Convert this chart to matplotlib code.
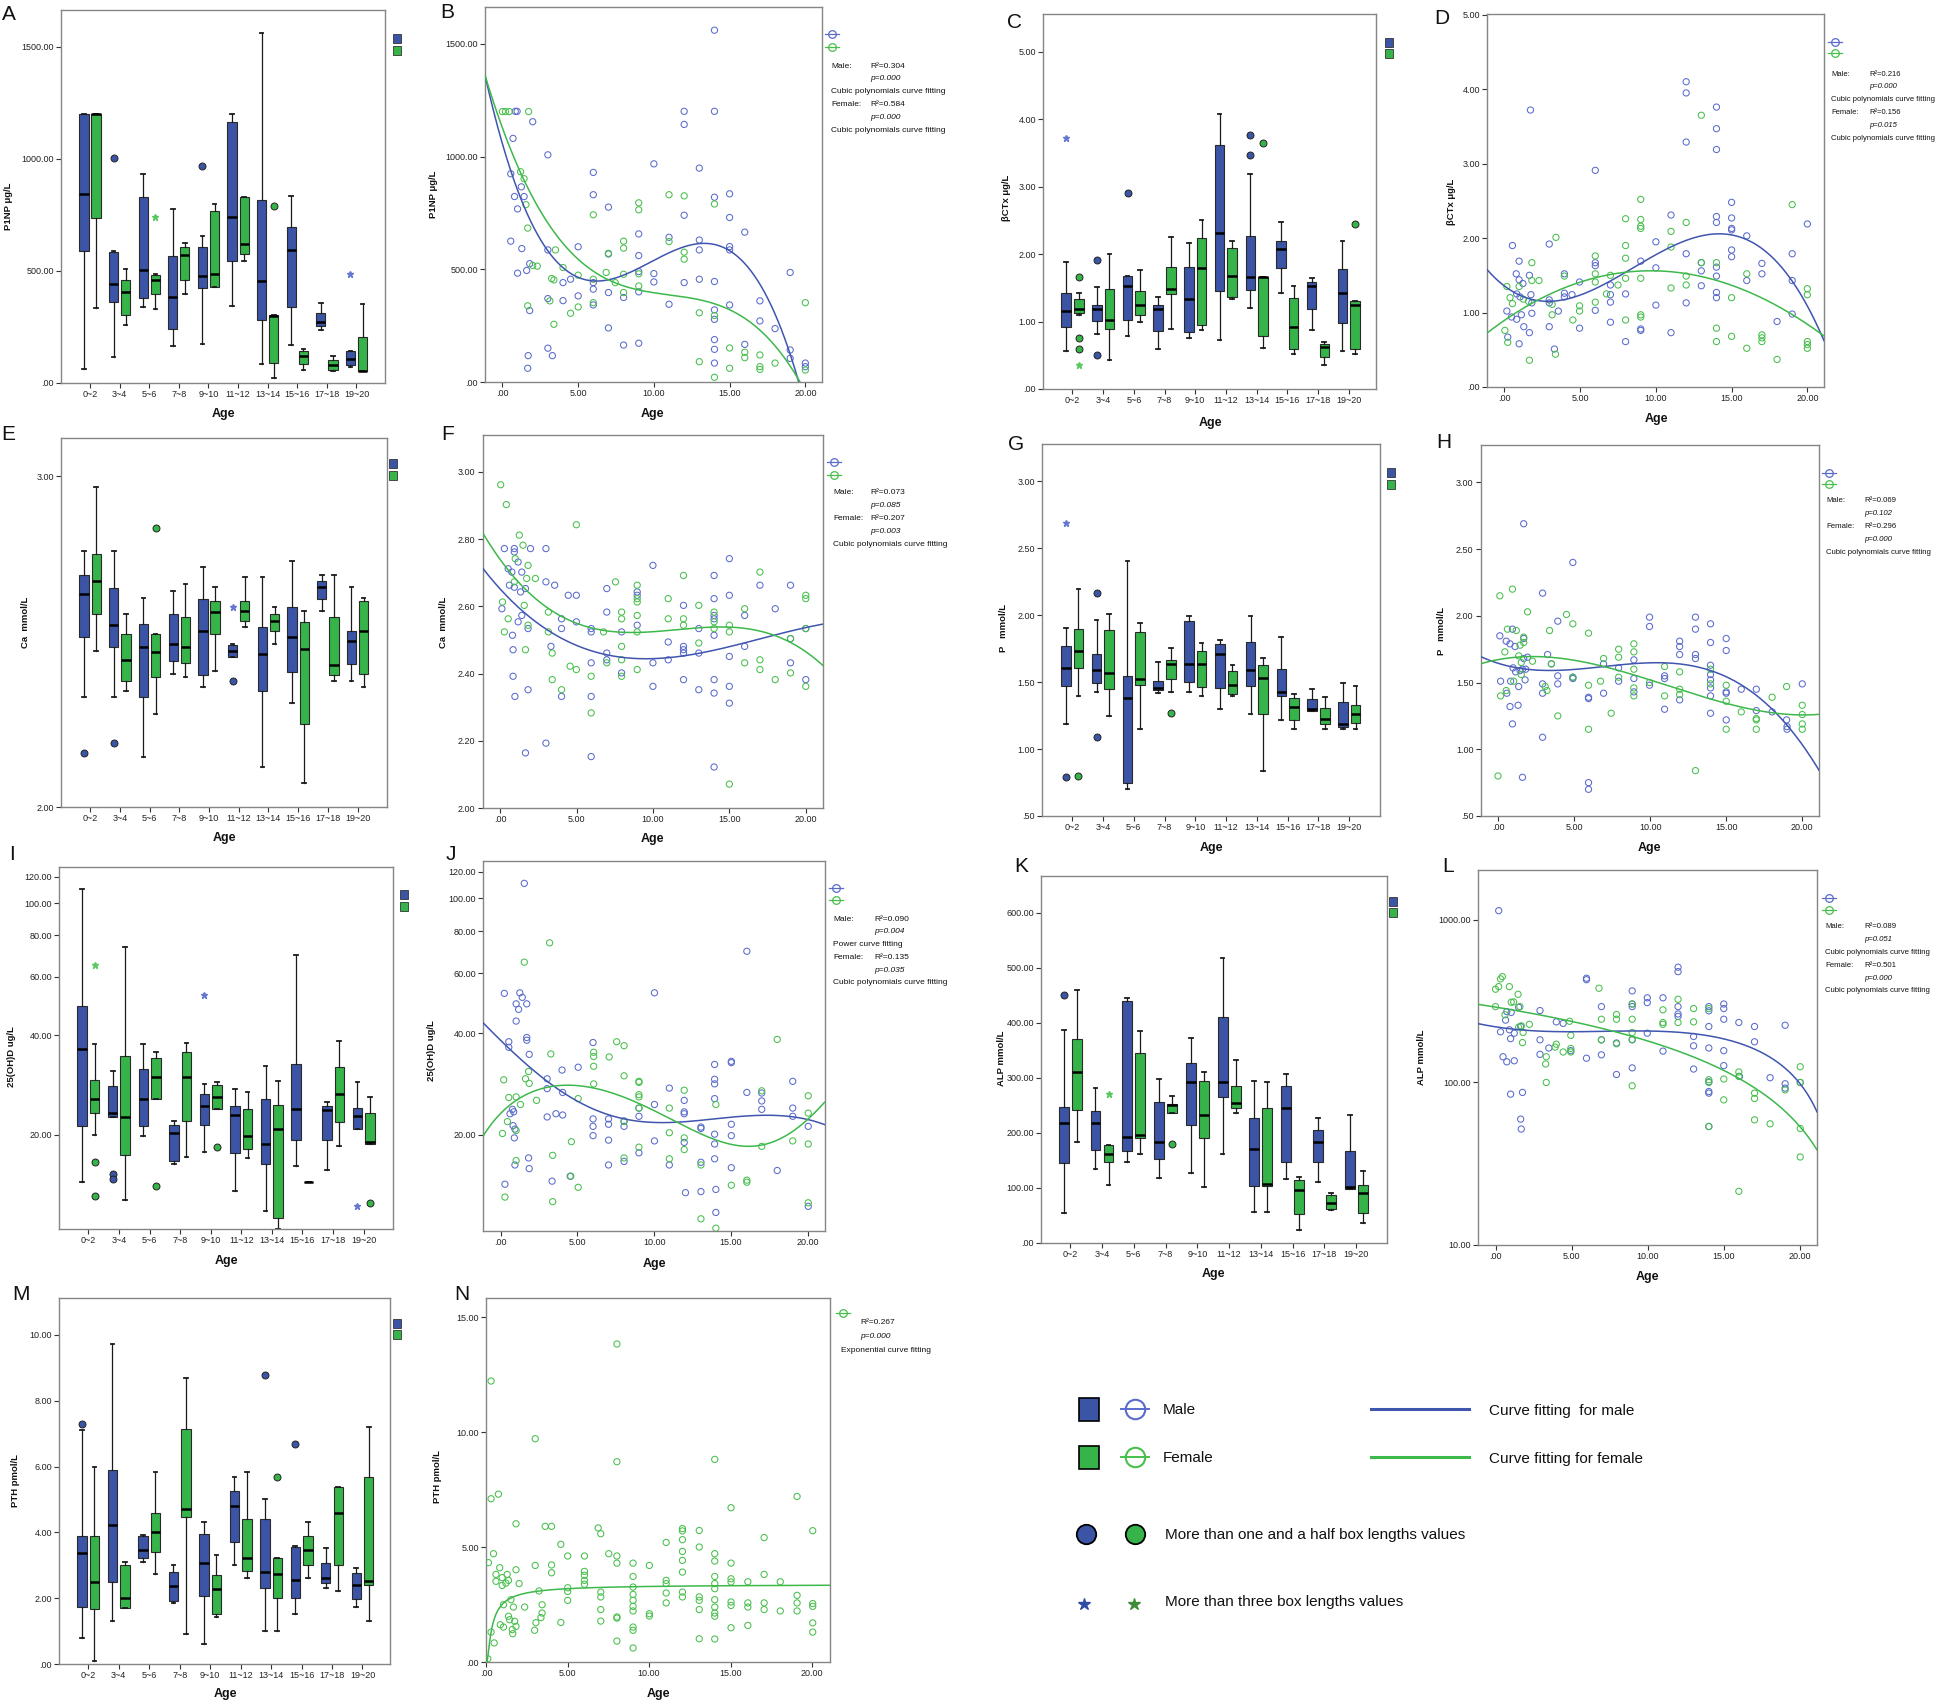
import numpy as np
import matplotlib
matplotlib.use("Agg")
import matplotlib.pyplot as plt
from matplotlib.lines import Line2D
from matplotlib.patches import Rectangle
from matplotlib.ticker import FixedLocator, FuncFormatter, NullLocator

NARROW = ["Liberation Sans Narrow", "Liberation Sans", "DejaVu Sans"]
REG = ["Liberation Sans", "DejaVu Sans"]
plt.rcParams["font.family"] = NARROW

# ---------------- data ----------------
age_groups = ["0~2", "3~4", "5~6", "7~8", "9~10", "11~12", "13~14", "15~16", "17~18", "19~20"]

# box stats per age group: [whisker low, q1, median, q3, whisker high]
p1np_male_box = [[61, 591, 844, 1200, 1200], [118, 362, 442, 586, 590], [341, 379, 506, 830, 933],
                 [167, 243, 385, 568, 775], [173, 424, 479, 607, 656], [344, 543, 741, 1166, 1201],
                 [86, 283, 455, 817, 1562], [168, 341, 595, 695, 835], [237, 254, 271, 314, 359],
                 [70, 80, 107, 141, 141]]
p1np_female_box = [[335, 735, 1200, 1200, 1200], [257, 305, 406, 458, 507], [332, 397, 460, 482, 485],
                   [397, 460, 573, 607, 626], [427, 427, 487, 768, 799], [545, 577, 622, 829, 829],
                   [21, 91, 299, 305, 305], [60, 85, 122, 141, 152], [54, 58, 79, 101, 121],
                   [52, 52, 55, 204, 351]]
# (sex, group index, value, kind)  kind "o" = 1.5 box lengths, "*" = 3 box lengths
p1np_outliers = [("M", 1, 1005, "o"), ("M", 4, 969, "o"), ("F", 2, 741, "*"),
                 ("F", 6, 790, "o"), ("M", 9, 485, "*")]

bctx_male_box = [[0.57, 0.925, 1.15, 1.42, 1.89], [0.81, 1.01, 1.19, 1.25, 1.51], [0.79, 1.03, 1.52, 1.68, 1.68],
                 [0.60, 0.86, 1.18, 1.25, 1.365], [0.75, 0.846, 1.34, 1.81, 2.16], [0.73, 1.45, 2.31, 3.62, 4.08],
                 [1.20, 1.47, 1.66, 2.27, 3.19], [1.42, 1.79, 2.07, 2.20, 2.47], [0.87, 1.19, 1.52, 1.58, 1.65],
                 [0.57, 0.98, 1.43, 1.78, 2.19]]
bctx_female_box = [[1.09, 1.13, 1.19, 1.34, 1.42], [0.435, 0.895, 1.03, 1.48, 2.0], [1.0, 1.10, 1.25, 1.45, 1.76],
                   [0.885, 1.41, 1.49, 1.81, 2.25], [0.875, 0.955, 1.80, 2.24, 2.51], [1.33, 1.37, 1.68, 2.09, 2.20],
                   [0.61, 0.78, 1.66, 1.66, 1.66], [0.52, 0.59, 0.925, 1.35, 1.52], [0.356, 0.475, 0.63, 0.67, 0.69],
                   [0.52, 0.59, 1.24, 1.31, 1.31]]
bctx_outliers = [("M", 0, 3.72, "*"), ("F", 0, 1.66, "o"), ("F", 0, 0.75, "o"), ("F", 0, 0.59, "o"),
                 ("F", 0, 0.35, "*"), ("M", 1, 1.92, "o"), ("M", 1, 0.50, "o"), ("M", 2, 2.90, "o"),
                 ("M", 6, 3.76, "o"), ("M", 6, 3.47, "o"), ("F", 6, 3.64, "o"), ("F", 9, 2.44, "o")]

ca_male_box = [[2.333, 2.514, 2.643, 2.70, 2.773], [2.333, 2.482, 2.549, 2.663, 2.773], [2.152, 2.333, 2.483, 2.553, 2.633],
               [2.402, 2.44, 2.492, 2.583, 2.654], [2.362, 2.398, 2.533, 2.628, 2.724], [2.452, 2.452, 2.472, 2.489, 2.492],
               [2.122, 2.351, 2.462, 2.543, 2.694], [2.313, 2.407, 2.513, 2.603, 2.743], [2.593, 2.628, 2.664, 2.684, 2.70],
               [2.382, 2.432, 2.502, 2.533, 2.664]]
ca_female_box = [[2.472, 2.583, 2.684, 2.763, 2.966], [2.351, 2.382, 2.443, 2.523, 2.583], [2.282, 2.392, 2.467, 2.523, 2.523],
                 [2.392, 2.436, 2.483, 2.573, 2.674], [2.412, 2.523, 2.588, 2.623, 2.664], [2.543, 2.563, 2.593, 2.623, 2.694],
                 [2.492, 2.533, 2.563, 2.583, 2.603], [2.072, 2.252, 2.477, 2.558, 2.593], [2.382, 2.398, 2.429, 2.573, 2.70],
                 [2.362, 2.402, 2.533, 2.623, 2.633]]
ca_outliers = [("M", 0, 2.162, "o"), ("M", 1, 2.192, "o"), ("F", 2, 2.843, "o"),
               ("M", 5, 2.382, "o"), ("M", 5, 2.604, "*")]

p_male_box = [[1.189, 1.468, 1.603, 1.772, 1.902], [1.423, 1.493, 1.593, 1.707, 1.962], [0.70, 0.745, 1.383, 1.543, 2.404],
              [1.418, 1.438, 1.458, 1.51, 1.65], [1.43, 1.503, 1.638, 1.955, 1.992], [1.30, 1.458, 1.713, 1.785, 1.812],
              [1.264, 1.471, 1.593, 1.802, 1.992], [1.221, 1.40, 1.43, 1.595, 1.835], [1.286, 1.286, 1.298, 1.371, 1.45],
              [1.151, 1.163, 1.189, 1.351, 1.493]]
p_female_box = [[1.40, 1.603, 1.733, 1.895, 2.20], [1.251, 1.448, 1.568, 1.89, 2.012], [1.151, 1.48, 1.523, 1.872, 1.942],
                [1.43, 1.523, 1.633, 1.665, 1.752], [1.40, 1.463, 1.638, 1.73, 1.792], [1.40, 1.413, 1.48, 1.58, 1.625],
                [0.84, 1.264, 1.533, 1.625, 1.683], [1.151, 1.219, 1.313, 1.383, 1.411], [1.151, 1.186, 1.226, 1.31, 1.388],
                [1.151, 1.193, 1.264, 1.331, 1.473]]
p_outliers = [("M", 0, 2.693, "*"), ("M", 0, 0.79, "o"), ("F", 0, 0.80, "o"), ("M", 1, 2.17, "o"),
              ("M", 1, 1.089, "o"), ("F", 3, 1.271, "o")]

vitd_male_box = [[14.4, 21.2, 36.4, 49.1, 110.7], [22.6, 22.6, 23.3, 28.1, 31.1], [19.9, 21.2, 25.6, 31.6, 37.7],
                 [16.3, 16.7, 20.2, 21.4, 22.1], [17.7, 21.4, 24.5, 26.5, 28.5], [13.5, 17.6, 23.0, 24.4, 27.5],
                 [11.8, 16.3, 18.8, 25.6, 32.3], [16.1, 19.3, 23.9, 32.8, 70.0], [15.7, 19.3, 23.8, 24.4, 25.2],
                 [20.9, 20.9, 22.8, 24.1, 28.8]]
vitd_female_box = [[20.0, 23.3, 25.7, 29.2, 37.7], [12.7, 17.4, 22.6, 34.7, 73.8], [25.6, 25.6, 30.0, 34.2, 35.5],
                   [17.1, 22.1, 30.0, 35.5, 37.8], [23.9, 23.9, 26.0, 28.3, 28.8], [17.0, 18.1, 19.9, 23.9, 27.0],
                   [10.4, 11.2, 20.8, 24.6, 29.0], [14.4, 14.4, 14.4, 14.4, 14.4], [18.5, 21.8, 26.6, 32.0, 38.5],
                   [18.8, 18.8, 19.1, 23.3, 26.1]]
vitd_outliers = [("F", 0, 64.9, "*"), ("F", 0, 16.6, "o"), ("F", 0, 13.1, "o"), ("M", 1, 15.2, "o"),
                 ("M", 1, 14.7, "o"), ("F", 2, 14.0, "o"), ("M", 4, 52.8, "*"), ("F", 4, 18.4, "o"),
                 ("M", 9, 12.2, "*"), ("F", 9, 12.5, "o")]

alp_male_box = [[55, 146, 218, 247, 388], [135, 169, 219, 239, 281], [148, 168, 192, 439, 445],
                [118, 153, 184, 256, 298], [128, 215, 293, 327, 372], [161, 266, 293, 411, 518],
                [57, 104, 170, 228, 295], [116, 148, 245, 285, 308], [111, 148, 184, 205, 228],
                [98, 99, 102, 168, 232]]
alp_female_box = [[184, 242, 310, 370, 460], [105, 148, 161, 178, 178], [161, 190, 196, 345, 386],
                  [236, 236, 251, 252, 268], [101, 190, 232, 295, 310], [236, 245, 254, 285, 332],
                  [57, 104, 107, 245, 292], [24, 52, 96, 115, 120], [60, 61, 73, 87, 90],
                  [37, 55, 91, 105, 131]]
alp_outliers = [("M", 0, 451, "o"), ("F", 1, 270, "*"), ("F", 3, 180, "o")]

pth_male_box = [[0.80, 1.72, 3.36, 3.90, 7.10], [1.32, 2.50, 4.21, 5.90, 9.71], [3.11, 3.21, 3.47, 3.90, 3.92],
                [1.84, 1.91, 2.37, 2.81, 3.01], [0.60, 2.07, 3.06, 3.95, 4.30], [3.01, 3.71, 4.81, 5.25, 5.69],
                [1.01, 2.32, 2.81, 4.40, 5.0], [1.52, 2.02, 2.56, 3.55, 3.60], [2.32, 2.47, 2.61, 3.06, 3.51],
                [1.72, 1.97, 2.41, 2.76, 2.91]]
pth_female_box = [[0.10, 1.66, 2.50, 3.90, 6.0], [1.71, 1.71, 2.02, 3.01, 3.09], [2.72, 3.41, 4.01, 4.60, 5.82],
                  [0.90, 4.46, 4.71, 7.13, 8.69], [1.42, 1.52, 2.27, 2.71, 3.30], [2.61, 2.82, 3.21, 4.40, 5.82],
                  [1.01, 2.02, 2.72, 3.21, 3.21], [2.61, 3.01, 3.47, 3.90, 4.30], [2.22, 3.01, 4.60, 5.39, 5.39],
                  [1.32, 2.41, 2.51, 5.69, 7.20]]
pth_outliers = [("M", 0, 7.29, "o"), ("M", 6, 8.78, "o"), ("F", 6, 5.69, "o"), ("M", 7, 6.69, "o")]

# scatter points (age, value)
p1np_male_pts = [(14.0, 1561), (0.85, 1201), (0.97, 1201), (2.0, 1155), (0.7, 1081), (3.0, 1008), (0.55, 924),
                 (1.25, 866), (0.8, 823), (1.43, 823), (1.0, 768), (6.0, 930), (6.0, 831), (7.0, 776), (10.0, 968),
                 (13.0, 949), (12.0, 1201), (12.0, 1143), (14.0, 1201), (14.0, 820), (15.0, 835), (15.0, 730),
                 (16.0, 665), (12.0, 740), (11.0, 642), (9.0, 657), (9.0, 561), (13.0, 630), (13.0, 586),
                 (15.0, 601), (15.0, 586), (0.55, 625), (1.28, 592), (3.0, 586), (1.8, 525), (5.0, 600),
                 (1.6, 495), (1.0, 483), (4.0, 441), (4.5, 456), (6.0, 441), (6.0, 412), (7.0, 568), (9.0, 490),
                 (9.0, 400), (10.0, 481), (10.0, 444), (12.0, 441), (13.0, 456), (14.0, 446), (11.0, 345),
                 (7.0, 397), (8.0, 375), (8.0, 164), (9.0, 172), (7.0, 240), (5.0, 382), (4.0, 361), (3.0, 370),
                 (6.0, 342), (1.8, 317), (3.0, 150), (3.3, 117), (1.7, 117), (1.67, 61), (14.0, 320), (14.0, 278),
                 (15.0, 342), (17.0, 360), (17.0, 271), (18.0, 237), (19.0, 486), (14.0, 188), (14.0, 145),
                 (14.0, 84), (16.0, 167), (19.0, 142), (19.0, 105), (20.0, 84), (20.0, 68)]
p1np_female_pts = [(0.0, 1200), (0.2, 1200), (0.45, 1200), (1.73, 1200), (1.2, 933), (1.43, 902), (1.55, 787),
                   (1.67, 683), (6.0, 742), (3.5, 586), (2.0, 517), (2.3, 514), (4.0, 508), (3.25, 459),
                   (3.4, 453), (5.0, 474), (6.0, 456), (6.85, 486), (7.0, 571), (7.45, 441), (8.0, 478),
                   (8.0, 625), (8.0, 594), (9.0, 795), (9.0, 764), (9.0, 480), (9.0, 426), (11.0, 831),
                   (12.0, 826), (11.0, 623), (12.0, 576), (12.0, 545), (14.0, 790), (8.0, 397), (5.0, 333),
                   (4.5, 305), (3.13, 360), (3.4, 256), (6.0, 352), (1.67, 338), (13.0, 307), (14.0, 295),
                   (20.0, 352), (13.0, 90), (14.0, 21), (15.0, 151), (15.0, 61), (16.0, 132), (16.0, 108),
                   (17.0, 120), (17.0, 68), (17.0, 56), (18.0, 84), (20.0, 53)]

bctx_male_pts = [(1.72, 3.72), (12, 4.10), (12, 3.95), (12, 3.29), (14, 3.76), (14, 3.47), (14, 3.19), (6, 2.91),
                 (11, 2.31), (15, 2.48), (15, 2.27), (15, 2.13), (15, 2.11), (14, 2.29), (14, 2.21), (20, 2.19),
                 (10, 1.95), (2.96, 1.92), (0.53, 1.90), (0.97, 1.69), (16, 2.03), (15, 1.84), (15, 1.75),
                 (12, 1.79), (19, 1.79), (6, 1.67), (6, 1.63), (9, 1.69), (10, 1.60), (14, 1.61), (14, 1.49),
                 (13, 1.56), (13, 1.67), (17, 1.66), (17, 1.52), (0.78, 1.52), (0.97, 1.44), (1.22, 1.39),
                 (1.65, 1.50), (3.96, 1.52), (4.96, 1.41), (7, 1.37), (19, 1.43), (16, 1.43), (13, 1.36),
                 (0.81, 1.25), (1.03, 1.21), (3.96, 1.26), (4.46, 1.24), (3.96, 1.21), (1.75, 1.24), (1.81, 1.13),
                 (2.96, 1.17), (2.96, 1.13), (7, 1.24), (7, 1.14), (8, 1.25), (14, 1.27), (14, 1.20), (12, 1.13),
                 (0.16, 1.02), (0.47, 0.94), (0.81, 0.91), (1.12, 0.97), (1.81, 0.99), (3.56, 1.02), (6, 1.03),
                 (10, 1.10), (19, 0.98), (1.28, 0.81), (2.96, 0.81), (4.96, 0.79), (7, 0.87), (9, 0.78), (9, 0.76),
                 (11, 0.73), (18, 0.88), (0.22, 0.67), (0.97, 0.58), (1.65, 0.73), (3.3, 0.51), (8, 0.61)]
bctx_female_pts = [(13, 3.65), (9, 2.52), (19, 2.45), (8, 2.26), (9, 2.25), (9, 2.16), (9, 2.13), (12, 2.21),
                   (11, 2.09), (3.4, 2.01), (11, 1.88), (8, 1.90), (6, 1.76), (8, 1.73), (1.81, 1.67), (2.28, 1.43),
                   (1.81, 1.43), (3.96, 1.49), (6, 1.52), (7, 1.50), (9, 1.46), (8, 1.46), (12, 1.49), (14, 1.67),
                   (13, 1.67), (16, 1.52), (0.16, 1.35), (0.97, 1.35), (6, 1.41), (7.5, 1.37), (12, 1.37),
                   (11, 1.33), (20, 1.32), (20, 1.24), (0.37, 1.20), (1.25, 1.18), (1.59, 1.15), (6.74, 1.25),
                   (15, 1.20), (6, 1.14), (3.15, 1.11), (4.96, 1.09), (0.53, 1.12), (4.96, 1.02), (3.15, 0.97),
                   (9, 0.97), (9, 0.94), (4.52, 0.90), (8, 0.90), (0.03, 0.76), (0.22, 0.60), (14, 0.79),
                   (14, 0.61), (15, 0.68), (17, 0.70), (17, 0.66), (17, 0.61), (16, 0.52), (20, 0.61), (20, 0.57),
                   (20, 0.52), (1.65, 0.36), (3.37, 0.44), (18, 0.37)]

ca_male_pts = [(0.28, 2.772), (0.93, 2.772), (1.99, 2.772), (3.0, 2.772), (0.93, 2.762), (1.18, 2.732), (0.53, 2.712),
               (0.77, 2.702), (1.42, 2.702), (10.0, 2.722), (15.0, 2.742), (14.0, 2.692), (0.61, 2.663), (0.93, 2.657),
               (1.66, 2.653), (3.0, 2.673), (3.57, 2.663), (1.34, 2.643), (6.98, 2.653), (8.97, 2.643), (8.97, 2.633),
               (4.46, 2.633), (4.99, 2.633), (17.0, 2.663), (19.0, 2.663), (15.0, 2.633), (14.0, 2.623), (12.0, 2.603),
               (0.12, 2.593), (18.0, 2.593), (16.0, 2.573), (6.98, 2.583), (1.42, 2.573), (14.0, 2.573), (14.0, 2.563),
               (1.18, 2.554), (4.02, 2.563), (4.99, 2.554), (8.97, 2.544), (1.83, 2.534), (5.96, 2.534), (5.96, 2.524),
               (4.02, 2.534), (0.81, 2.514), (14.0, 2.514), (13.0, 2.534), (7.95, 2.524), (19.0, 2.504), (20.0, 2.534),
               (11.0, 2.494), (12.0, 2.481), (12.0, 2.471), (12.0, 2.461), (13.0, 2.461), (16.0, 2.481), (3.33, 2.481),
               (0.85, 2.471), (6.98, 2.461), (6.98, 2.441), (5.96, 2.432), (10.0, 2.432), (11.0, 2.441), (15.0, 2.451),
               (19.0, 2.432), (7.95, 2.402), (0.85, 2.392), (10.0, 2.362), (12.0, 2.382), (14.0, 2.382), (20.0, 2.382),
               (15.0, 2.362), (1.83, 2.352), (13.0, 2.352), (14.0, 2.342), (0.97, 2.332), (4.02, 2.332), (5.96, 2.332),
               (15.0, 2.312), (3.0, 2.193), (1.66, 2.164), (5.96, 2.153), (14.0, 2.122)]
ca_female_pts = [(0.04, 2.962), (0.41, 2.903), (4.99, 2.843), (1.26, 2.812), (1.5, 2.782), (0.99, 2.742), (1.83, 2.722),
                 (17.0, 2.702), (12.0, 2.692), (1.74, 2.683), (2.31, 2.683), (7.55, 2.673), (0.93, 2.673), (8.97, 2.663),
                 (11.0, 2.623), (20.0, 2.633), (20.0, 2.623), (0.16, 2.613), (8.97, 2.623), (8.97, 2.613), (1.58, 2.603),
                 (13.0, 2.603), (16.0, 2.593), (3.16, 2.583), (7.95, 2.583), (7.95, 2.563), (8.97, 2.573), (0.53, 2.563),
                 (11.0, 2.563), (12.0, 2.563), (12.0, 2.544), (14.0, 2.583), (14.0, 2.554), (1.83, 2.544), (15.0, 2.544),
                 (0.28, 2.524), (3.16, 2.524), (6.77, 2.524), (8.97, 2.524), (14.0, 2.534), (15.0, 2.524), (20.0, 2.534),
                 (13.0, 2.491), (19.0, 2.504), (1.66, 2.471), (7.95, 2.481), (3.41, 2.461), (6.98, 2.432), (4.58, 2.422),
                 (4.99, 2.412), (7.95, 2.441), (17.0, 2.441), (17.0, 2.412), (16.0, 2.432), (8.97, 2.412), (7.95, 2.392),
                 (5.96, 2.392), (3.41, 2.382), (18.0, 2.382), (19.0, 2.402), (20.0, 2.362), (4.02, 2.352), (5.96, 2.283),
                 (15.0, 2.071)]

p_male_pts = [(1.69, 2.69), (4.92, 2.40), (2.93, 2.17), (9.96, 1.99), (9.96, 1.92), (12.98, 1.99), (12.98, 1.90),
              (13.97, 1.94), (3.93, 1.96), (0.95, 1.90), (0.12, 1.85), (0.54, 1.81), (0.79, 1.79), (1.69, 1.83),
              (1.12, 1.77), (11.94, 1.81), (11.94, 1.77), (11.94, 1.71), (13.97, 1.80), (15.0, 1.83), (15.0, 1.74),
              (3.26, 1.71), (1.94, 1.69), (1.69, 1.68), (12.98, 1.71), (12.98, 1.68), (6.94, 1.64), (3.51, 1.64),
              (8.93, 1.67), (0.99, 1.61), (1.45, 1.59), (1.16, 1.58), (13.97, 1.63), (13.97, 1.56), (1.61, 1.60),
              (1.82, 1.60), (4.92, 1.54), (4.92, 1.53), (7.93, 1.61), (10.95, 1.53), (10.95, 1.55), (1.78, 1.52),
              (0.17, 1.51), (0.83, 1.51), (13.97, 1.52), (8.93, 1.53), (3.93, 1.55), (2.93, 1.49), (7.93, 1.51),
              (9.96, 1.48), (3.93, 1.49), (15.0, 1.43), (15.0, 1.42), (8.93, 1.43), (15.99, 1.45), (16.98, 1.45),
              (13.97, 1.46), (2.93, 1.42), (0.58, 1.42), (6.94, 1.42), (1.36, 1.47), (13.97, 1.40), (20.0, 1.49),
              (5.95, 1.39), (5.95, 1.38), (11.94, 1.37), (0.79, 1.32), (1.32, 1.33), (10.95, 1.30), (16.98, 1.29),
              (18.02, 1.28), (13.97, 1.27), (15.0, 1.22), (0.95, 1.19), (18.97, 1.22), (19.0, 1.17), (19.0, 1.15),
              (2.93, 1.09), (1.61, 0.79), (5.95, 0.75), (5.95, 0.70)]
p_female_pts = [(0.95, 2.20), (0.12, 2.15), (1.94, 2.03), (4.5, 2.01), (4.92, 1.94), (0.62, 1.90), (1.2, 1.89),
                (3.39, 1.89), (1.69, 1.84), (1.69, 1.80), (5.95, 1.87), (8.93, 1.79), (1.45, 1.78), (0.45, 1.73),
                (7.93, 1.75), (8.93, 1.73), (1.36, 1.70), (1.53, 1.65), (2.27, 1.66), (7.93, 1.69), (6.94, 1.68),
                (3.51, 1.64), (8.93, 1.60), (10.95, 1.62), (11.94, 1.58), (13.97, 1.60), (1.53, 1.56), (7.93, 1.54),
                (4.92, 1.54), (1.03, 1.51), (6.74, 1.51), (15.0, 1.48), (13.97, 1.49), (18.97, 1.47), (9.96, 1.50),
                (5.95, 1.48), (8.93, 1.46), (3.1, 1.47), (3.22, 1.44), (11.94, 1.45), (0.54, 1.44), (11.94, 1.41),
                (8.93, 1.40), (10.95, 1.40), (0.17, 1.40), (18.02, 1.39), (15.0, 1.36), (20.0, 1.33), (15.99, 1.28),
                (16.98, 1.23), (16.98, 1.22), (15.0, 1.15), (16.98, 1.15), (20.0, 1.26), (20.0, 1.19), (20.0, 1.15),
                (7.44, 1.27), (3.93, 1.25), (5.95, 1.15), (12.98, 0.84), (0.0, 0.80)]

vitd_male_pts = [(1.54, 110.8), (16.04, 69.8), (0.24, 52.4), (10.02, 52.6), (1.25, 52.6), (1.41, 51.0), (1.01, 48.8),
                 (1.7, 48.8), (1.17, 47.0), (1.01, 43.4), (0.53, 37.7), (0.53, 36.3), (1.7, 38.8), (1.7, 38.1),
                 (6.02, 37.5), (1.86, 34.6), (13.94, 32.3), (15.03, 33.0), (15.03, 32.7), (4.0, 31.1), (5.05, 31.7),
                 (3.03, 29.3), (3.03, 27.4), (13.94, 29.2), (13.94, 28.3), (19.03, 28.8), (10.99, 27.5), (16.04, 26.7),
                 (17.01, 26.6), (17.01, 25.2), (11.96, 25.3), (13.94, 25.6), (10.02, 24.6), (4.04, 26.7), (17.01, 23.8),
                 (0.77, 23.8), (0.85, 23.4), (0.61, 23.1), (3.6, 23.1), (4.04, 22.9), (3.03, 22.6), (11.96, 23.1),
                 (11.96, 23.4), (19.03, 24.0), (19.03, 22.7), (6.02, 22.3), (6.02, 21.2), (7.03, 22.3), (7.03, 21.5),
                 (8.04, 22.0), (8.04, 21.2), (9.01, 22.7), (9.01, 24.0), (15.03, 21.5), (20.04, 21.2), (0.81, 21.3),
                 (0.93, 20.8), (13.05, 21.1), (13.05, 20.9), (13.94, 20.1), (15.03, 19.9), (0.89, 19.6), (6.02, 19.9),
                 (7.03, 19.3), (10.02, 19.2), (11.96, 19.0), (13.94, 18.8), (9.01, 17.7), (1.82, 17.1), (8.04, 16.7),
                 (13.05, 16.6), (13.94, 17.0), (0.93, 16.3), (1.86, 15.9), (7.03, 16.3), (10.99, 16.3), (15.03, 16.0),
                 (18.02, 15.7), (4.53, 15.1), (0.28, 14.3), (3.35, 14.6), (12.04, 13.5), (13.05, 13.6), (14.02, 13.8),
                 (14.02, 11.8), (20.04, 12.3)]
vitd_female_pts = [(3.19, 73.9), (1.54, 64.8), (18.02, 38.3), (7.56, 37.7), (8.04, 36.7), (6.06, 35.1), (6.06, 34.1),
                   (3.27, 34.7), (7.07, 34.0), (1.82, 30.8), (6.06, 31.9), (8.04, 29.9), (9.01, 28.8), (9.01, 28.6),
                   (0.2, 29.1), (1.62, 29.3), (1.86, 28.4), (6.06, 28.3), (17.01, 27.0), (11.96, 27.1), (9.01, 26.3),
                   (9.01, 25.9), (0.53, 25.8), (1.01, 25.9), (5.05, 25.6), (2.34, 25.3), (20.04, 26.1), (1.29, 24.6),
                   (14.02, 24.6), (9.01, 24.0), (10.99, 24.0), (20.04, 23.2), (0.44, 21.9), (8.04, 21.9), (1.01, 20.6),
                   (0.12, 20.2), (10.99, 20.3), (11.96, 19.6), (4.61, 19.1), (19.03, 19.2), (20.04, 18.8), (17.01, 18.5),
                   (9.01, 18.4), (11.96, 18.1), (3.39, 17.4), (8.04, 17.1), (10.99, 17.0), (1.01, 16.8), (13.05, 16.3),
                   (4.57, 15.1), (16.04, 14.7), (16.04, 14.5), (15.03, 14.2), (5.05, 14.0), (0.28, 13.1), (3.39, 12.7),
                   (20.04, 12.6), (13.05, 11.3), (14.02, 10.6)]

alp_male_pts = [(0.21, 1141), (11.98, 512), (11.98, 481), (5.97, 438), (5.97, 429), (8.97, 366), (9.96, 332),
                (9.96, 310), (10.99, 332), (8.97, 304), (8.97, 293), (14.0, 293), (14.0, 276), (14.98, 304),
                (14.98, 285), (11.98, 293), (1.52, 290), (0.74, 273), (1.03, 270), (6.95, 293), (2.92, 277),
                (11.98, 264), (11.98, 255), (14.98, 245), (15.97, 234), (17.0, 221), (19.01, 225), (0.66, 242),
                (0.33, 205), (0.91, 211), (1.65, 221), (1.23, 201), (0.99, 186), (3.99, 236), (4.44, 231),
                (9.96, 201), (14.0, 221), (13.0, 192), (2.92, 183), (6.95, 183), (7.94, 175), (8.97, 183),
                (3.5, 163), (13.0, 168), (14.0, 163), (14.98, 157), (17.0, 178), (10.99, 156), (4.94, 157),
                (2.92, 149), (6.95, 148), (0.49, 144), (0.74, 134), (1.23, 136), (5.97, 141), (13.0, 121),
                (14.98, 127), (8.97, 123), (7.94, 112), (16.01, 109), (18.02, 107), (14.0, 101), (19.01, 98.2),
                (19.01, 92.3), (20.0, 100), (14.0, 88.0), (14.0, 86.0), (0.99, 84.8), (1.77, 86.9), (14.0, 53.6),
                (1.65, 59.5), (1.69, 51.7)]
alp_female_pts = [(0.45, 448), (0.33, 434), (0.21, 389), (0.91, 389), (0.0, 375), (6.79, 380), (1.48, 349),
                  (1.03, 312), (1.19, 313), (8.97, 304), (1.6, 293), (11.98, 325), (0.0, 293), (10.99, 280),
                  (13.0, 285), (14.0, 285), (0.62, 261), (7.94, 262), (7.94, 245), (8.97, 245), (6.95, 245),
                  (10.99, 234), (10.99, 228), (11.98, 234), (13.0, 236), (2.22, 228), (1.69, 223), (1.52, 219),
                  (1.81, 203), (8.97, 203), (4.94, 195), (4.86, 238), (6.95, 183), (7.94, 173), (8.97, 184),
                  (1.77, 176), (3.99, 172), (3.91, 165), (4.44, 154), (4.94, 154), (4.94, 162), (3.33, 144),
                  (3.29, 130), (15.97, 116), (15.97, 109), (20.0, 125), (14.0, 104), (14.0, 100), (20.0, 100),
                  (14.98, 105), (8.97, 95.4), (3.33, 100), (19.01, 90.1), (17.0, 86.0), (17.0, 79.7),
                  (14.98, 78.2), (17.0, 58.9), (18.02, 55.7), (20.0, 52.1), (14.0, 53.6), (20.0, 34.8),
                  (15.97, 21.4)]

pth_female_pts = [(8.03, 13.83), (0.31, 12.22), (3.02, 9.71), (14.03, 8.81), (8.03, 8.71), (19.08, 7.20), (0.76, 7.30),
                  (0.31, 7.10), (15.03, 6.71), (1.84, 6.01), (3.63, 5.90), (4.02, 5.90), (6.88, 5.83), (7.04, 5.58),
                  (12.05, 5.80), (12.05, 5.70), (13.08, 5.72), (20.04, 5.71), (17.06, 5.41), (12.05, 5.32),
                  (11.05, 5.20), (4.59, 5.12), (13.08, 5.0), (0.46, 4.71), (7.53, 4.71), (12.05, 4.81), (14.03, 4.71),
                  (5.01, 4.61), (6.04, 4.61), (8.03, 4.61), (12.05, 4.42), (0.15, 4.32), (8.03, 4.30), (9.02, 4.30),
                  (10.02, 4.20), (14.03, 4.39), (15.03, 4.30), (3.02, 4.20), (4.02, 4.22), (0.84, 4.10), (1.84, 4.01),
                  (4.02, 3.88), (12.05, 3.91), (6.04, 3.94), (6.04, 3.77), (6.04, 3.55), (6.04, 3.38), (1.3, 3.81),
                  (0.61, 3.81), (17.06, 3.81), (0.99, 3.67), (1.38, 3.55), (9.02, 3.72), (14.03, 3.72), (15.03, 3.62),
                  (0.61, 3.51), (11.05, 3.55), (11.05, 3.41), (1.22, 3.43), (2.03, 3.41), (0.99, 3.33), (14.03, 3.41),
                  (15.03, 3.48), (16.06, 3.49), (18.05, 3.49), (5.01, 3.23), (5.01, 3.07), (9.02, 3.26), (14.03, 3.19),
                  (3.25, 3.09), (7.04, 3.04), (7.04, 2.83), (11.05, 3.0), (12.05, 3.04), (9.02, 2.94), (19.08, 2.90),
                  (12.05, 2.83), (13.08, 2.83), (13.08, 2.68), (14.03, 2.71), (1.53, 2.71), (5.01, 2.68), (9.02, 2.68),
                  (15.03, 2.61), (16.06, 2.57), (17.06, 2.57), (11.05, 2.57), (19.08, 2.57), (20.04, 2.54),
                  (20.04, 2.42), (1.07, 2.49), (3.44, 2.49), (1.68, 2.39), (2.37, 2.39), (9.02, 2.42), (14.03, 2.39),
                  (15.03, 2.46), (16.06, 2.39), (17.06, 2.28), (7.04, 2.28), (13.08, 2.28), (18.05, 2.22),
                  (19.08, 2.22), (9.02, 2.22), (3.44, 2.13), (14.03, 2.13), (10.02, 2.10), (10.02, 2.0), (14.03, 1.99),
                  (8.03, 1.96), (1.38, 1.99), (3.37, 1.93), (1.45, 1.84), (7.04, 1.78), (8.03, 1.91), (1.76, 1.77),
                  (4.59, 1.72), (3.06, 1.71), (0.88, 1.62), (1.84, 1.55), (1.07, 1.52), (16.06, 1.59), (15.03, 1.49),
                  (9.02, 1.52), (9.02, 1.38), (20.04, 1.70), (1.61, 1.41), (2.98, 1.38), (1.64, 1.23), (20.04, 1.30),
                  (0.31, 1.30), (13.08, 1.01), (14.03, 1.0), (8.03, 0.91), (0.5, 0.83), (9.02, 0.61), (0.11, 0.14)]

# points (age, value)
p1np_male_fit = [(-1.15, 1364), (5, 460), (6.1, 441), (10, 542), (13.6, 643), (16, 527), (18, 246), (19.7, 0)]
p1np_female_fit = [(-1.15, 1364), (5, 527), (10, 431), (14, 320), (19, 83), (19.6, 0)]
bctx_male_fit = [(-1.15, 1.58), (2.96, 1.15), (7, 1.41), (10, 1.79), (14.5, 2.07), (19, 1.39), (21.1, 0.64)]
bctx_female_fit = [(-1.15, 0.73), (3, 1.23), (9, 1.58), (14, 1.42), (19, 0.97), (21.1, 0.69)]
ca_male_fit = [(-1.1, 2.707), (3, 2.546), (8, 2.435), (13, 2.461), (17, 2.51), (21.1, 2.544)]
ca_female_fit = [(-1.1, 2.811), (3, 2.615), (7, 2.514), (10, 2.521), (14.5, 2.544), (18, 2.516), (21.1, 2.422)]
p_male_fit = [(-1.2, 1.705), (3, 1.575), (6, 1.605), (11, 1.68), (15, 1.525), (18, 1.293), (21.2, 0.832)]
p_female_fit = [(-1.2, 1.64), (2.3, 1.69), (6, 1.65), (10, 1.52), (15, 1.34), (19, 1.266), (21.2, 1.261)]
vitd_male_fit = [(-1.05, 42.8), (3, 27.8), (6, 24.5), (10, 22.4), (14, 21.8), (20, 21.9), (21.1, 21.8)]
vitd_female_fit = [(-1.05, 20.5), (2, 25.9), (5, 28.3), (9, 25.4), (12, 20.8), (16, 18.5), (19, 20.3), (21.1, 25.1)]
alp_male_fit = [(-1.15, 234), (1.8, 206), (5, 199), (9, 211), (12, 216), (15, 183), (18, 130), (21.15, 71)]
alp_female_fit = [(-1.15, 304), (5, 232), (9, 196), (13, 148), (17, 90), (19, 60.4), (21.15, 42.4)]
pth_female_fit = [(0.3, 1.23), (0.8, 2.39), (1.45, 2.86), (3, 3.09), (5, 3.19), (10, 3.22), (20, 3.22)]

# ---------------- style ----------------
BOX_BLUE, BOX_GREEN = "#3B54A5", "#36B44A"
DOT_BLUE, DOT_GREEN = "#5A6BCB", "#48BF4C"
FIT_BLUE, FIT_GREEN = "#3F55AF", "#3DB84B"
STAR_BLUE, STAR_GREEN = "#6376D2", "#57C95D"

W, H = 1946, 1705
fig = plt.figure(figsize=(W / 100, H / 100), dpi=100)


def fx(x):
    return x / W


def fy(y):
    return 1 - y / H


def add_ax(l, t, r, b):
    return fig.add_axes([l / W, 1 - b / H, (r - l) / W, (b - t) / H])


def spss_fmt(v, pos=None):
    s = f"{v:.2f}"
    return s[1:] if s.startswith("0.") else s


def style_axes(ax, yticks, ylim, log=False):
    if log:
        ax.set_yscale("log")
    ax.set_ylim(*ylim)
    ax.yaxis.set_major_locator(FixedLocator(yticks))
    ax.yaxis.set_major_formatter(FuncFormatter(spss_fmt))
    ax.yaxis.set_minor_locator(NullLocator())
    for s in ax.spines.values():
        s.set_color("#858585")
        s.set_linewidth(1.0)
    ax.tick_params(axis="both", direction="out", length=3.5, width=0.8, color="#333333",
                   labelsize=6.5, pad=1.5, labelcolor="#222222")


def box_panel(rect, male, female, outliers, yticks, ylim, xlim, log=False):
    ax = add_ax(*rect)
    pos = np.arange(len(age_groups))
    for stats, off, col in ((male, -0.205, BOX_BLUE), (female, 0.205, BOX_GREEN)):
        bx = [dict(whislo=s[0], q1=s[1], med=s[2], q3=s[3], whishi=s[4]) for s in stats]
        ax.bxp(bx, positions=pos + off, widths=0.31, patch_artist=True, showfliers=False,
               boxprops=dict(facecolor=col, edgecolor="#2a2a2a", linewidth=0.8),
               medianprops=dict(color="black", linewidth=1.8),
               whiskerprops=dict(color="#1a1a1a", linewidth=0.9),
               capprops=dict(color="#1a1a1a", linewidth=1.3),
               capwidths=0.12, manage_ticks=False)
    for sex, g, val, kind in outliers:
        xo = g + (-0.205 if sex == "M" else 0.205)
        if kind == "o":
            ax.plot(xo, val, "o", ms=5, mfc=BOX_BLUE if sex == "M" else BOX_GREEN,
                    mec="#222222", mew=0.7, zorder=4)
        else:
            ax.plot(xo, val, "*", ms=5, color=STAR_BLUE if sex == "M" else STAR_GREEN, zorder=4)
    ax.set_xlim(*xlim)
    ax.set_xticks(pos)
    ax.set_xticklabels(age_groups)
    style_axes(ax, yticks, ylim, log)
    return ax


def cubic_curve(ctrl, xlim):
    cx, cy = zip(*ctrl)
    coef = np.polyfit(cx, cy, 3)
    xs = np.linspace(xlim[0], xlim[1], 400)
    return xs, np.polyval(coef, xs)


def scatter_panel(rect, yticks, ylim, xlim, series, log=False):
    ax = add_ax(*rect)
    for pts, col in series:
        xs, ys = zip(*pts)
        ax.scatter(xs, ys, s=20, facecolors="none", edgecolors=col, linewidths=0.75, zorder=3)
    ax.set_xlim(*xlim)
    ax.xaxis.set_major_locator(FixedLocator([0, 5, 10, 15, 20]))
    ax.xaxis.set_major_formatter(FuncFormatter(spss_fmt))
    style_axes(ax, yticks, ylim, log)
    return ax


def side_marker(x, y, col):
    fig.add_artist(Line2D([fx(x - 7), fx(x + 7)], [fy(y), fy(y)], color=col, lw=0.9,
                          transform=fig.transFigure))
    fig.add_artist(Line2D([fx(x)], [fy(y)], marker="o", ms=5.5, mfc="none", mec=col, mew=0.9,
                          transform=fig.transFigure))


def side_squares(x, y1, y2):
    for yy, col in ((y1, BOX_BLUE), (y2, BOX_GREEN)):
        fig.add_artist(Rectangle((fx(x - 4), fy(yy + 4.5)), 8 / W, 9 / H, fc=col, ec="#333333",
                                 lw=0.6, transform=fig.transFigure))


def fit_notes(x_lab, x_val, y0, rows, dy=12.8, size=6.0):
    for i, (lab, val) in enumerate(rows):
        yy = y0 + i * dy
        if lab:
            fig.text(fx(x_lab), fy(yy), lab, fontsize=size, va="center", ha="left", color="#111111")
        if val:
            fig.text(fx(x_val), fy(yy), val, fontsize=size, va="center", ha="left", color="#111111",
                     style="italic" if val.startswith("p") else "normal")


def ylabel(x, y, text):
    fig.text(fx(x), fy(y), text, rotation=90, ha="center", va="center", fontsize=6.8,
             fontweight="bold", family=REG, color="#111111")


def xlabel(x, y):
    fig.text(fx(x), fy(y), "Age", ha="center", va="center", fontsize=9, fontweight="bold", color="#111111")


SX = (-1.15, 21.1)
CUBIC = "Cubic polynomials curve fitting"

# ---------------- row 1 ----------------
box_panel((61, 10, 385.5, 383), p1np_male_box, p1np_female_box, p1np_outliers,
          [0, 500, 1000, 1500], (0, 1665), (-0.98, 9.98))
ax = scatter_panel((485, 7, 822, 382), [0, 500, 1000, 1500], (0, 1664), SX,
                   [(p1np_male_pts, DOT_BLUE), (p1np_female_pts, DOT_GREEN)])
for ctrl, col in ((p1np_male_fit, FIT_BLUE), (p1np_female_fit, FIT_GREEN)):
    ax.plot(*cubic_curve(ctrl, SX), color=col, lw=1.1, zorder=4)

box_panel((1043, 14, 1376, 389), bctx_male_box, bctx_female_box, bctx_outliers,
          [0, 1, 2, 3, 4, 5], (0, 5.56), (-0.96, 9.89))
ax = scatter_panel((1487, 14, 1824, 387), [0, 1, 2, 3, 4, 5], (0, 5.01), SX,
                   [(bctx_male_pts, DOT_BLUE), (bctx_female_pts, DOT_GREEN)])
for ctrl, col in ((bctx_male_fit, FIT_BLUE), (bctx_female_fit, FIT_GREEN)):
    ax.plot(*cubic_curve(ctrl, SX), color=col, lw=1.1, zorder=4)

# ---------------- row 2 ----------------
box_panel((61, 438, 387, 807), ca_male_box, ca_female_box, ca_outliers,
          [2.0, 3.0], (2.0, 3.115), (-0.98, 9.99))
ax = scatter_panel((482.5, 435, 822.6, 808), [2.0, 2.2, 2.4, 2.6, 2.8, 3.0], (2.0, 3.11), SX,
                   [(ca_male_pts, DOT_BLUE), (ca_female_pts, DOT_GREEN)])
for ctrl, col in ((ca_male_fit, FIT_BLUE), (ca_female_fit, FIT_GREEN)):
    ax.plot(*cubic_curve(ctrl, SX), color=col, lw=1.1, zorder=4)

box_panel((1042, 444, 1380, 816), p_male_box, p_female_box, p_outliers,
          [0.5, 1.0, 1.5, 2.0, 2.5, 3.0], (0.5, 3.28), (-0.98, 10.0))
ax = scatter_panel((1480.5, 445, 1819, 816), [0.5, 1.0, 1.5, 2.0, 2.5, 3.0], (0.5, 3.28), SX,
                   [(p_male_pts, DOT_BLUE), (p_female_pts, DOT_GREEN)])
for ctrl, col in ((p_male_fit, FIT_BLUE), (p_female_fit, FIT_GREEN)):
    ax.plot(*cubic_curve(ctrl, SX), color=col, lw=1.1, zorder=4)

# ---------------- row 3 ----------------
box_panel((59, 867, 393, 1229), vitd_male_box, vitd_female_box, vitd_outliers,
          [20, 40, 60, 80, 100, 120], (10.4, 128.6), (-0.96, 9.96), log=True)
ax = scatter_panel((483, 861, 824.5, 1231), [20, 40, 60, 80, 100, 120], (10.4, 129), SX,
                   [(vitd_male_pts, DOT_BLUE), (vitd_female_pts, DOT_GREEN)], log=True)
for ctrl, col in ((vitd_male_fit, FIT_BLUE), (vitd_female_fit, FIT_GREEN)):
    ax.plot(*cubic_curve(ctrl, SX), color=col, lw=1.1, zorder=4)

box_panel((1041, 876, 1387, 1243), alp_male_box, alp_female_box, alp_outliers,
          [0, 100, 200, 300, 400, 500, 600], (0, 667), (-0.92, 9.97))
ax = scatter_panel((1478, 870, 1817, 1245), [10, 100, 1000], (10, 2030), SX,
                   [(alp_male_pts, DOT_BLUE), (alp_female_pts, DOT_GREEN)], log=True)
for ctrl, col in ((alp_male_fit, FIT_BLUE), (alp_female_fit, FIT_GREEN)):
    ax.plot(*cubic_curve(ctrl, SX), color=col, lw=1.1, zorder=4)

# ---------------- row 4 ----------------
box_panel((59, 1298, 390.5, 1664), pth_male_box, pth_female_box, pth_outliers,
          [0, 2, 4, 6, 8, 10], (0, 11.12), (-0.96, 9.92))
ax = scatter_panel((486, 1298, 830, 1662), [0, 5, 10, 15], (0, 15.83), (0, 21.1),
                   [(pth_female_pts, DOT_GREEN)])
cx, cy = zip(*pth_female_fit)
sc = np.polyfit(1 / np.array(cx), np.log(cy), 1)
xs = np.linspace(0.01, 21.1, 600)
ax.plot(xs, np.exp(sc[1] + sc[0] / xs), color=FIT_GREEN, lw=1.1, zorder=4)

# ---------------- labels ----------------
for lab, x, y in [("A", 2, 14), ("B", 440, 13), ("C", 1007, 23), ("D", 1434, 19),
                  ("E", 1, 434), ("F", 441, 434), ("G", 1008, 445), ("H", 1436, 443),
                  ("I", 9, 854), ("J", 446, 855), ("K", 1014, 866), ("L", 1442, 866),
                  ("M", 12, 1295), ("N", 454, 1295)]:
    fig.text(fx(x), fy(y), lab, fontsize=15, ha="left", va="center", family=REG, color="#111111")

for x, y, t in [(9, 206, "P1NP μg/L"), (434, 194, "P1NP μg/L"), (1007, 198, "βCTx μg/L"),
                (1451, 202, "βCTx μg/L"), (25, 622, "Ca  mmol/L"), (443, 622, "Ca  mmol/L"),
                (1004, 628, "P   mmol/L"), (1442, 631, "P   mmol/L"), (12, 1057, "25(OH)D ug/L"),
                (432, 1051, "25(OH)D ug/L"), (1001, 1058, "ALP mmol/L"), (1422, 1057, "ALP mmol/L"),
                (15, 1481, "PTH pmol/L"), (438, 1477, "PTH pmol/L")]:
    ylabel(x, y, t)

for x, y in [(223, 414), (652, 414), (1210, 423), (1656, 419), (224, 838), (652, 839),
             (1211, 848), (1649, 848), (226, 1261), (654, 1264), (1213, 1274), (1647, 1277),
             (225, 1694), (658, 1694)]:
    xlabel(x, y)

# small legends next to each panel
for x, y1, y2 in [(397, 38, 50), (1389, 42, 53), (393, 463, 475), (1391, 472, 484),
                  (404, 894, 906), (1393, 901, 912), (397, 1323, 1334)]:
    side_squares(x, y1, y2)

for x, y1, y2 in [(832, 34, 47), (1835, 42, 53), (834, 462, 475), (1829, 473, 484),
                  (836, 888, 900), (1829, 898, 910)]:
    side_marker(x, y1, DOT_BLUE)
    side_marker(x, y2, DOT_GREEN)
side_marker(843, 1313, DOT_GREEN)

fit_notes(831, 870, 66, [("Male:", "R²=0.304"), ("", "p=0.000"), (CUBIC, ""),
                         ("Female:", "R²=0.584"), ("", "p=0.000"), (CUBIC, "")])
fit_notes(1831, 1869, 74, [("Male:", "R²=0.216"), ("", "p=0.000"), (CUBIC, ""),
                           ("Female:", "R²=0.156"), ("", "p=0.015"), (CUBIC, "")], size=5.5)
fit_notes(833, 870, 493, [("Male:", "R²=0.073"), ("", "p=0.085"), ("Female:", "R²=0.207"),
                          ("", "p=0.003"), (CUBIC, "")])
fit_notes(1826, 1864, 501, [("Male:", "R²=0.069"), ("", "p=0.102"), ("Female:", "R²=0.296"),
                            ("", "p=0.000"), (CUBIC, "")], size=5.6)
fit_notes(833, 874, 919, [("Male:", "R²=0.090"), ("", "p=0.004"), ("Power curve fitting", ""),
                          ("Female:", "R²=0.135"), ("", "p=0.035"), (CUBIC, "")])
fit_notes(1825, 1864, 927, [("Male:", "R²=0.089"), ("", "p=0.051"), (CUBIC, ""),
                            ("Female:", "R²=0.501"), ("", "p=0.000"), (CUBIC, "")], size=5.6)
fit_notes(841, 860, 1323, [("", "R²=0.267"), ("", "p=0.000"), ("Exponential curve fitting", "")], dy=13.5)

# ---------------- key (bottom right) ----------------
KEY_SIZE = 11
for yy, box_col, dot_col, lab, fit_lab in [(1409, BOX_BLUE, DOT_BLUE, "Male", "Curve fitting  for male"),
                                           (1457, BOX_GREEN, DOT_GREEN, "Female", "Curve fitting for female")]:
    fig.add_artist(Rectangle((fx(1079), fy(yy + 11.5)), 20 / W, 23 / H, fc=box_col, ec="black", lw=1.2,
                             transform=fig.transFigure))
    fig.add_artist(Line2D([fx(1121), fx(1149)], [fy(yy), fy(yy)], color=dot_col, lw=1.4,
                          transform=fig.transFigure))
    fig.add_artist(Line2D([fx(1135)], [fy(yy)], marker="o", ms=14, mfc="none", mec=dot_col, mew=1.5,
                          transform=fig.transFigure))
    fig.text(fx(1163), fy(yy + 1), lab, fontsize=KEY_SIZE, va="center", ha="left", color="#111111")
    fig.add_artist(Line2D([fx(1371), fx(1469)], [fy(yy), fy(yy)],
                          color=FIT_BLUE if lab == "Male" else FIT_GREEN, lw=2.2, transform=fig.transFigure))
    fig.text(fx(1489), fy(yy + 2), fit_lab, fontsize=KEY_SIZE, va="center", ha="left", color="#111111")

for x, col in ((1086, BOX_BLUE), (1135, BOX_GREEN)):
    fig.add_artist(Line2D([fx(x)], [fy(1534)], marker="o", ms=14, mfc=col, mec="black", mew=1.3,
                          transform=fig.transFigure))
fig.text(fx(1165), fy(1535), "More than one and a half box lengths values", fontsize=KEY_SIZE, va="center",
         ha="left", color="#111111")
for x, col in ((1084, "#2F4CA3"), (1134, "#3E8C3A")):
    fig.add_artist(Line2D([fx(x)], [fy(1604)], marker="*", ms=9, color=col, transform=fig.transFigure))
fig.text(fx(1165), fy(1602), "More than three box lengths values", fontsize=KEY_SIZE, va="center",
         ha="left", color="#111111")

fig.savefig("out.png", dpi=100, facecolor="white")
